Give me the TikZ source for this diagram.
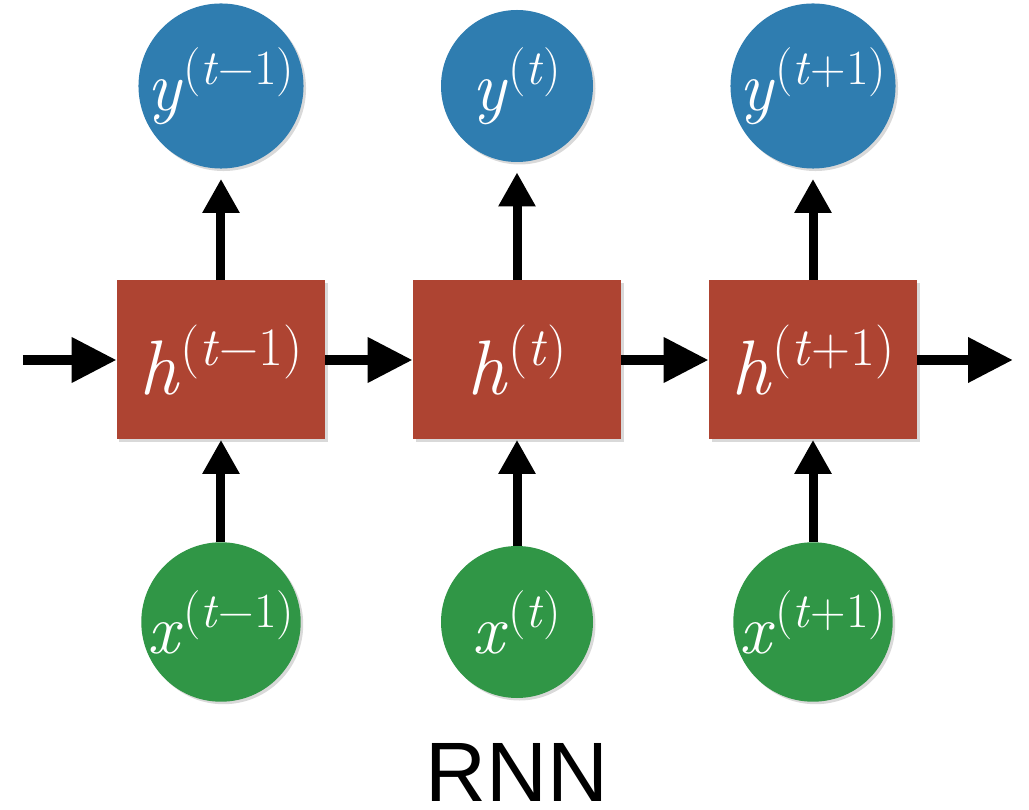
\documentclass[tikz,border=0pt]{standalone}
\usepackage{fontspec}
\newfontfamily\headfont{Liberation Sans}
\usetikzlibrary{positioning, arrows.meta, shadows}
\definecolor{outblue}{RGB}{47,125,176}
\definecolor{cellred}{RGB}{174,68,50}
\definecolor{ingreen}{RGB}{48,150,70}
\tikzstyle{hidden} = [rectangle, minimum width=4.16cm, minimum height=3.18cm, inner sep=0pt, fill=cellred, text=white, font=\fontsize{44}{44}\selectfont, drop shadow={shadow xshift=0.05cm, shadow yshift=-0.05cm, opacity=0.3}]
\tikzstyle{outnode} = [circle, minimum size=3.04cm, inner sep=0pt, fill=outblue, text=white, font=\fontsize{40}{40}\selectfont, drop shadow={shadow xshift=0.05cm, shadow yshift=-0.05cm, opacity=0.3}]
\tikzstyle{innode} = [outnode, fill=ingreen]
\tikzstyle{titletext} = [inner sep=0pt, font=\headfont\fontsize{48}{48}\selectfont]
\tikzstyle{arrow} = [-{Triangle[length=0.68cm, width=0.7cm]}, line width=0.18cm]
\tikzstyle{bigarrow} = [-{Triangle[length=0.9cm, width=0.86cm]}, line width=0.2cm]
\newcommand{\tstep}[2]{\textit{#1}\raisebox{0.37em}{\scalebox{0.7}{(\textit{t}#2)}}}

\begin{document}
\begin{tikzpicture}[node distance=5.92cm]
    \useasboundingbox (-4.42,-9.0) rectangle (16.16,7.2);
    %hidden states
    \node (h1) [hidden] {\tstep{h}{−1}};
    \node (h2) [hidden, right of = h1] {\tstep{h}{}};
    \node (h3) [hidden, right of = h2] {\tstep{h}{+1}};
    %outputs and inputs
    \node (y1) [outnode, above of = h1, node distance = 5.48cm] {\tstep{y}{−1}};
    \node (y2) [outnode, above of = h2, node distance = 5.48cm] {\tstep{y}{}};
    \node (y3) [outnode, above of = h3, node distance = 5.48cm] {\tstep{y}{+1}};
    \node (x1) [innode, below of = h1, node distance = 5.24cm] {\tstep{x}{−1}};
    \node (x2) [innode, below of = h2, node distance = 5.24cm] {\tstep{x}{}};
    \node (x3) [innode, below of = h3, node distance = 5.24cm] {\tstep{x}{+1}};
    \node (title) [titletext, below of = x2, node distance = 3.0cm] {RNN};
    \coordinate (in) at (-3.96,0);
    \coordinate (out) at (15.84,0);

    %connections
    \draw [arrow, shorten >= 0.2cm] (h1) -- (y1);
    \draw [arrow, shorten >= 0.2cm] (h2) -- (y2);
    \draw [arrow, shorten >= 0.2cm] (h3) -- (y3);
    \draw [arrow] (x1) -- (h1);
    \draw [arrow] (x2) -- (h2);
    \draw [arrow] (x3) -- (h3);
    \draw [bigarrow] (in) -- (h1);
    \draw [bigarrow] (h1) -- (h2);
    \draw [bigarrow] (h2) -- (h3);
    \draw [bigarrow] (h3) -- (out);
\end{tikzpicture}
\end{document}
